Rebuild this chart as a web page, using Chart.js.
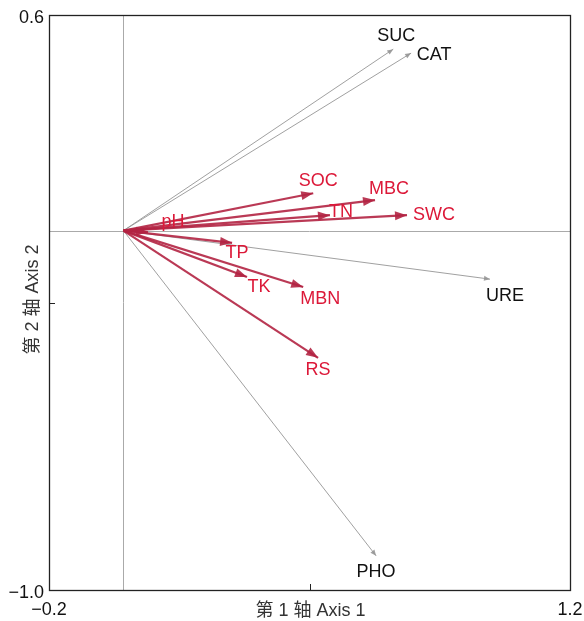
<!DOCTYPE html>
<html><head><meta charset="utf-8">
<script src="https://cdn.jsdelivr.net/npm/chart.js@4/dist/chart.umd.min.js"></script>
<style>html,body{margin:0;padding:0;background:#fff}#wrap{width:584px;height:621px}</style>
</head><body><div id="wrap"><canvas id="c" width="584" height="621"></canvas></div>
<script>
// ---- data ----
const variables = ['SUC','CAT','URE','PHO','SOC','MBC','TN','SWC','pH','TP','TK','MBN','RS'];
const axis1Scores = [0.725,0.773,0.985,0.679,0.510,0.676,0.555,0.762,0.066,0.292,0.332,0.483,0.523];
const axis2Scores = [0.505,0.494,-0.135,-0.905,0.104,0.085,0.043,0.043,-0.004,-0.034,-0.129,-0.157,-0.354];
const variableGroup = ['enzyme','enzyme','enzyme','enzyme','soil','soil','soil','soil','soil','soil','soil','soil','soil'];
const xTickLabels = [-0.2, 1.2];
const yTickLabels = [0.6, -1.0];
const xMinorTicks = [0.5];
const yMinorTicks = [-0.2];

// ---- styles ----
const labelOffsets = {SUC:[3,-13],CAT:[23,2],URE:[15,17],PHO:[0,16],SOC:[5,-12],MBC:[14,-11],TN:[11,-3],SWC:[27,0],pH:[25,-10],TP:[5,10],TK:[12,10],MBN:[17,12],RS:[0,12]};
const styleFor = {
  enzyme:{line:'rgba(150,150,150,0.9)', width:1, head:[6,2.5], text:'#111'},
  soil:{line:'rgba(178,36,66,0.9)', width:2.2, head:[12,4.5], text:'#dc1838'}
};
const fmt = v => (v<0?'\u2212':'') + Math.abs(v).toFixed(1);

const datasets = variables.map((name,i)=>({
  label:name,
  data:[{x:0,y:0},{x:axis1Scores[i],y:axis2Scores[i]}],
  showLine:true,
  borderColor:styleFor[variableGroup[i]].line,
  borderWidth:styleFor[variableGroup[i]].width,
  pointRadius:0,
  order: variableGroup[i]==='enzyme'?2:1,
  _group:variableGroup[i]
}));

const overlay = {
  id:'overlay',
  beforeDatasetsDraw(chart){
    const {ctx, chartArea:a, scales:{x,y}} = chart;
    ctx.save();
    ctx.strokeStyle='#aaaaaa'; ctx.lineWidth=1;
    const x0=Math.round(x.getPixelForValue(0))+0.5, y0=Math.round(y.getPixelForValue(0))+0.5;
    ctx.beginPath(); ctx.moveTo(x0,a.top); ctx.lineTo(x0,a.bottom); ctx.moveTo(a.left,y0); ctx.lineTo(a.right,y0); ctx.stroke();
    ctx.restore();
  },
  afterDatasetsDraw(chart){
    const {ctx, chartArea:a, scales:{x,y}} = chart;
    ctx.save();
    // arrowheads
    chart.data.datasets.forEach((ds,i)=>{
      const meta=chart.getDatasetMeta(i);
      const p0=meta.data[0], p1=meta.data[1];
      const st=styleFor[ds._group];
      const ang=Math.atan2(p1.y-p0.y,p1.x-p0.x);
      const [L,W]=st.head;
      ctx.fillStyle=st.line;
      ctx.beginPath();
      ctx.moveTo(p1.x,p1.y);
      ctx.lineTo(p1.x-L*Math.cos(ang)+W*Math.sin(ang), p1.y-L*Math.sin(ang)-W*Math.cos(ang));
      ctx.lineTo(p1.x-L*Math.cos(ang)-W*Math.sin(ang), p1.y-L*Math.sin(ang)+W*Math.cos(ang));
      ctx.closePath(); ctx.fill();
    });
    // labels
    ctx.font='18px "Liberation Sans", Arial, sans-serif';
    ctx.textAlign='center'; ctx.textBaseline='middle';
    chart.data.datasets.forEach((ds,i)=>{
      const p1=chart.getDatasetMeta(i).data[1];
      const off=labelOffsets[ds.label];
      ctx.fillStyle=styleFor[ds._group].text;
      ctx.fillText(ds.label,p1.x+off[0],p1.y+off[1]);
    });
    // frame
    ctx.strokeStyle='#222'; ctx.lineWidth=1.3;
    ctx.strokeRect(Math.round(a.left)+0.5,Math.round(a.top)+0.5,Math.round(a.right-a.left),Math.round(a.bottom-a.top));
    // inward ticks
    ctx.lineWidth=1;
    xMinorTicks.forEach(v=>{const px=Math.round(x.getPixelForValue(v))+0.5; ctx.beginPath(); ctx.moveTo(px,a.bottom); ctx.lineTo(px,a.bottom-6); ctx.stroke();});
    yMinorTicks.forEach(v=>{const py=Math.round(y.getPixelForValue(v))+0.5; ctx.beginPath(); ctx.moveTo(a.left,py); ctx.lineTo(a.left+6,py); ctx.stroke();});
    // axis titles
    ctx.fillStyle='#333';
    ctx.font='18px "Liberation Sans", "Noto Sans CJK SC", sans-serif';
    ctx.fillText('第 1 轴 Axis 1',(a.left+a.right)/2+1,611);
    ctx.translate(33,(a.top+a.bottom)/2-3);
    ctx.rotate(-Math.PI/2);
    ctx.fillText('第 2 轴 Axis 2',0,0);
    ctx.restore();
  }
};

new Chart(document.getElementById('c'),{
  type:'scatter',
  data:{datasets},
  options:{
    responsive:false, animation:false, devicePixelRatio:1,
    layout:{padding:{top:15,right:14,left:0,bottom:0}},
    plugins:{legend:{display:false},tooltip:{enabled:false}},
    scales:{
      x:{type:'linear',min:-0.2,max:1.2,
        grid:{display:false,drawTicks:false}, border:{display:false},
        afterBuildTicks(s){s.ticks=xTickLabels.map(v=>({value:v}));},
        afterFit(s){s.height=31; s.paddingLeft=0; s.paddingRight=0;},
        ticks:{autoSkip:false,maxRotation:0,padding:9,color:'#111',font:{size:18,family:'"Liberation Sans", Arial'},callback:v=>fmt(v)}},
      y:{type:'linear',min:-1.0,max:0.6,
        grid:{display:false,drawTicks:false}, border:{display:false},
        afterBuildTicks(s){s.ticks=yTickLabels.map(v=>({value:v}));},
        afterFit(s){s.width=49; s.paddingTop=0; s.paddingBottom=0;},
        ticks:{autoSkip:false,padding:5,labelOffset:3,color:'#111',font:{size:18,family:'"Liberation Sans", Arial'},callback:v=>fmt(v)}}
    }
  },
  plugins:[overlay]
});
</script></body></html>
